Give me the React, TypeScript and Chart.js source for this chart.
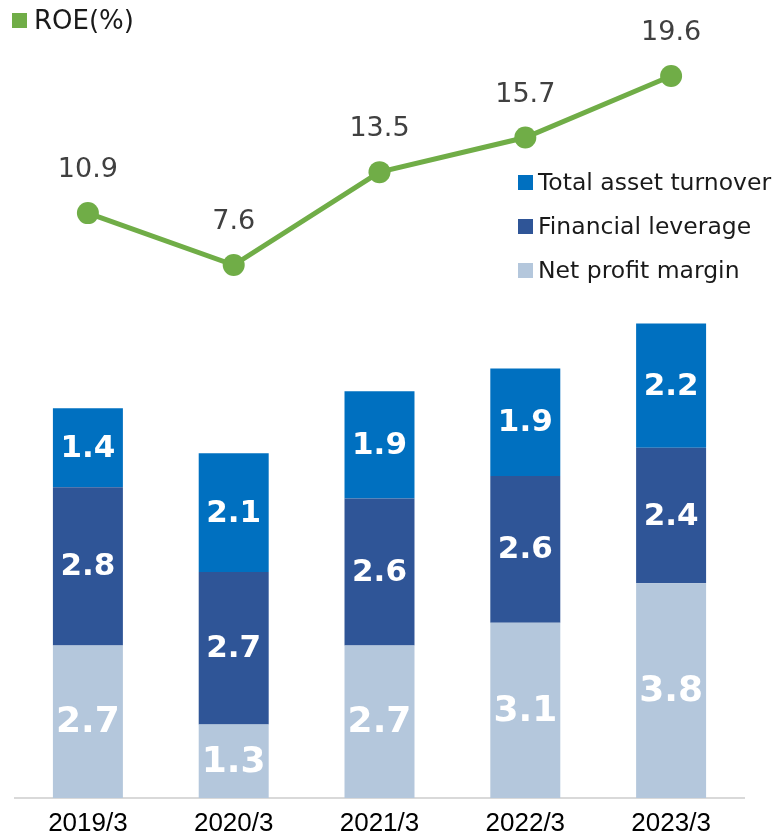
import React, { useEffect, useRef } from "react";
import { Chart, registerables } from "chart.js";

Chart.register(...registerables);

const categories = ["2019/3", "2020/3", "2021/3", "2022/3", "2023/3"];
const netProfitMargin = [2.7, 1.3, 2.7, 3.1, 3.8];
const financialLeverage = [2.8, 2.7, 2.6, 2.6, 2.4];
const totalAssetTurnover = [1.4, 2.1, 1.9, 1.9, 2.2];
const roe = [10.9, 7.6, 13.5, 15.7, 19.6];

const COLORS = {
  npm: "#b4c7dc",
  fl: "#2f5597",
  tat: "#0070c0",
  roe: "#70ad47",
};

const labelPlugin = {
  id: "valueLabels",
  afterDatasetsDraw(chart: any) {
    const ctx = chart.ctx;
    ctx.save();
    chart.data.datasets.forEach((ds: any, di: number) => {
      const meta = chart.getDatasetMeta(di);
      if (meta.hidden) return;
      meta.data.forEach((el: any, i: number) => {
        const v = ds.data[i];
        const txt = v.toFixed(1);
        ctx.textAlign = "center";
        ctx.textBaseline = "middle";
        if (ds.type === "line") {
          ctx.fillStyle = "#404040";
          ctx.font = "27px 'DejaVu Sans'";
          ctx.fillText(txt, el.x, el.y - 43);
        } else {
          ctx.fillStyle = "#ffffff";
          const size = di === 0 ? 36 : 31;
          ctx.font = `bold ${size}px 'DejaVu Sans'`;
          const cy = (el.y + el.base) / 2;
          ctx.fillText(txt, el.x, cy + 1);
        }
      });
    });
    ctx.restore();
  },
};

export default function App() {
  const ref = useRef<HTMLCanvasElement | null>(null);

  useEffect(() => {
    if (!ref.current) return;
    const chart = new Chart(ref.current, {
      type: "bar",
      data: {
        labels: categories,
        datasets: [
          {
            type: "bar",
            label: "Net profit margin",
            data: netProfitMargin,
            backgroundColor: COLORS.npm,
            yAxisID: "y",
            stack: "s",
            order: 2,
          },
          {
            type: "bar",
            label: "Financial leverage",
            data: financialLeverage,
            backgroundColor: COLORS.fl,
            yAxisID: "y",
            stack: "s",
            order: 2,
          },
          {
            type: "bar",
            label: "Total asset turnover",
            data: totalAssetTurnover,
            backgroundColor: COLORS.tat,
            yAxisID: "y",
            stack: "s",
            order: 2,
          },
          {
            type: "line",
            label: "ROE(%)",
            data: roe,
            borderColor: COLORS.roe,
            backgroundColor: COLORS.roe,
            borderWidth: 5,
            pointRadius: 11,
            pointHoverRadius: 11,
            pointBorderWidth: 0,
            tension: 0,
            yAxisID: "y2",
            order: 1,
          } as any,
        ],
      },
      options: {
        responsive: false,
        animation: false,
        layout: { padding: { top: 0, left: 15, right: 33, bottom: 0 } },
        datasets: {
          bar: { categoryPercentage: 1, barPercentage: 0.48 },
        },
        plugins: {
          legend: { display: false },
          tooltip: { enabled: false },
        },
        scales: {
          x: {
            stacked: true,
            grid: { display: false, drawTicks: false },
            border: { display: true, color: "#d9d9d9", width: 2 },
            ticks: {
              color: "#000000",
              padding: 13,
              font: { family: "'Liberation Sans'", size: 26, lineHeight: 1 },
            },
          },
          y: {
            stacked: true,
            display: false,
            min: 0,
            max: 13.93,
          },
          y2: {
            display: false,
            min: -26.23,
            max: 23.73,
          },
        },
      },
      plugins: [labelPlugin],
    });
    return () => chart.destroy();
  }, []);

  const legendText: React.CSSProperties = {
    fontFamily: "'DejaVu Sans'",
    fontSize: 23.5,
    color: "#1a1a1a",
    whiteSpace: "nowrap",
  };

  const sq = (c: string): React.CSSProperties => ({
    position: "absolute",
    width: 15,
    height: 15,
    background: c,
  });

  const rows = [
    { label: "Total asset turnover", color: COLORS.tat, y: 182 },
    { label: "Financial leverage", color: COLORS.fl, y: 226 },
    { label: "Net profit margin", color: COLORS.npm, y: 270 },
  ];

  return (
    <div
      style={{
        position: "absolute",
        left: 0,
        top: 0,
        width: 777,
        height: 836,
        background: "#ffffff",
        overflow: "hidden",
      }}
    >
      <canvas ref={ref} width={777} height={850} style={{ display: "block" }} />
      <div style={{ ...sq(COLORS.roe), left: 12, top: 13 }} />
      <div
        style={{
          ...legendText,
          position: "absolute",
          left: 34,
          top: 20,
          transform: "translateY(-50%)",
          fontSize: 26,
        }}
      >
        ROE(%)
      </div>
      {rows.map((r) => (
        <React.Fragment key={r.label}>
          <div style={{ ...sq(r.color), left: 518, top: r.y - 7 }} />
          <div
            style={{
              ...legendText,
              position: "absolute",
              left: 538,
              top: r.y,
              transform: "translateY(-50%)",
            }}
          >
            {r.label}
          </div>
        </React.Fragment>
      ))}
    </div>
  );
}
